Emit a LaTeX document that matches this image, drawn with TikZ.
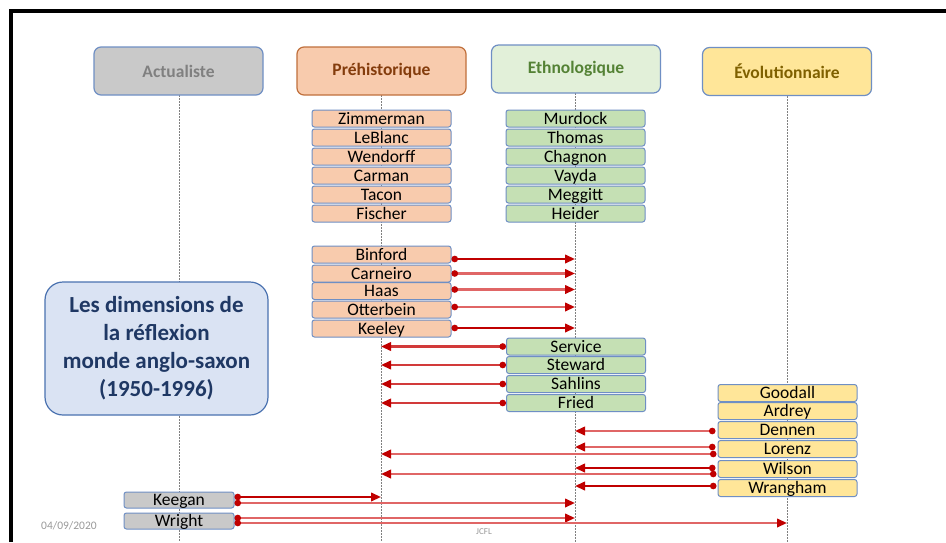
\documentclass[tikz,border=0pt]{standalone}
\usepackage{fontspec}
\setmainfont{Carlito}
\usetikzlibrary{arrows.meta,calc}
\definecolor{dred}{HTML}{C00000}
\definecolor{lred}{HTML}{E06666}
\definecolor{mred}{HTML}{D23A3A}
\definecolor{bbord}{HTML}{6F8FC4}
\definecolor{pbord}{HTML}{C0703C}
\definecolor{gfill}{HTML}{C9C9C9}
\definecolor{pfill}{HTML}{F8CBAD}
\definecolor{efill}{HTML}{C5E0B4}
\definecolor{ehfill}{HTML}{E2F0D9}
\definecolor{vfill}{HTML}{FFE699}
\definecolor{bigfill}{HTML}{DAE3F3}
\begin{document}
\begin{tikzpicture}[x=1pt,y=-1pt,
  headbox/.style={draw=bbord,line width=1.2pt,rounded corners=7pt,minimum width=169pt,minimum height=48pt,inner sep=0pt,font=\fontsize{17.5}{17}\selectfont\bfseries},
  namebox/.style={draw=bbord,line width=1pt,rounded corners=2.5pt,minimum width=139pt,minimum height=17pt,inner sep=0pt,text height=12.5pt,text depth=1.5pt,font=\fontsize{17.5}{17}\selectfont},
  pbox/.style={namebox,fill=pfill},
  ebox/.style={namebox,fill=efill},
  vbox/.style={namebox,fill=vfill},
  abox/.style={namebox,fill=gfill,minimum width=110pt,minimum height=16pt},
  colline/.style={draw=gray,line width=0.6pt,dash pattern=on 1.5pt off 1.5pt},
  arr/.style={line width=2.2pt,{Circle[length=6.5pt,width=6.5pt,color=dred]}-{Triangle[length=10pt,width=8.5pt,color=dred]}},
]
\useasboundingbox (0,0) rectangle (946,542);
\fill[white] (0,0) rectangle (946,542);
% frame
\draw[line width=4pt,black] (11,542) -- (11,11) -- (946,11);
% column coordinates
\coordinate (colA) at (179,0);
\coordinate (colP) at (381,0);
\coordinate (colE) at (575,0);
\coordinate (colV) at (787,0);
% column lines
\draw[colline] (179,95) -- (179,542);
\draw[colline] (381,95) -- (381,542);
\draw[colline] (575,93) -- (575,542);
\draw[colline] (787,96) -- (787,542);
% headers
\node[headbox,fill=gfill,text=gray] (hA) at (178.5,71) {Actualiste};
\node[headbox,fill=pfill,draw=pbord,text={rgb,255:red,132;green,60;blue,12}] (hP) at (381.5,71) {Préhistorique};
\node[headbox,fill=ehfill,text={rgb,255:red,84;green,130;blue,53}] (hE) at (576,69) {Ethnologique};
\node[headbox,fill=vfill,text={rgb,255:red,127;green,96;blue,0}] (hV) at (787,71.5) {Évolutionnaire};
% big box
\node[draw={rgb,255:red,74;green,114;blue,176},line width=1.2pt,fill=bigfill,rounded corners=18pt,minimum width=223pt,minimum height=133pt,align=center,text={rgb,255:red,31;green,56;blue,100},font=\fontsize{23}{28}\selectfont\bfseries] (big) at (156.5,348.5) {Les dimensions de\\la réflexion\\monde anglo-saxon\\(1950-1996)};
% Préhistorique names
\node[pbox] (zim) at (381.5,118.5) {Zimmerman};
\node[pbox] (leb) at (381.5,137.5) {LeBlanc};
\node[pbox] (wen) at (381.5,156.5) {Wendorff};
\node[pbox] (car) at (381.5,175.5) {Carman};
\node[pbox] (tac) at (381.5,194.5) {Tacon};
\node[pbox] (fis) at (381.5,213.5) {Fischer};
\node[pbox] (bin) at (381.5,254.5) {Binford};
\node[pbox] (carn) at (381.5,273.5) {Carneiro};
\node[pbox] (haa) at (381.5,291) {Haas};
\node[pbox] (ott) at (381.5,309.5) {Otterbein};
\node[pbox] (kee) at (381.5,328.5) {Keeley};
% Ethnologique names
\node[ebox] (mur) at (575.5,118.5) {Murdock};
\node[ebox] (tho) at (575.5,137.5) {Thomas};
\node[ebox] (cha) at (575.5,156.5) {Chagnon};
\node[ebox] (vay) at (575.5,175.5) {Vayda};
\node[ebox] (meg) at (575.5,194.5) {Meggitt};
\node[ebox] (hei) at (575.5,213.5) {Heider};
\node[ebox] (ser) at (576,346.5) {Service};
\node[ebox] (ste) at (576,365) {Steward};
\node[ebox] (sah) at (576,384) {Sahlins};
\node[ebox] (fri) at (576,403) {Fried};
% Évolutionnaire names
\node[vbox] (goo) at (787.5,393) {Goodall};
\node[vbox] (ard) at (787.5,411) {Ardrey};
\node[vbox] (den) at (787.5,430) {Dennen};
\node[vbox] (lor) at (787.5,449) {Lorenz};
\node[vbox] (wil) at (787.5,469) {Wilson};
\node[vbox] (wra) at (787.5,488) {Wrangham};
% Actualiste names
\node[abox] (keg) at (179,500) {Keegan};
\node[abox] (wri) at (179,521) {Wright};
% arrows Préhistorique -> Ethnologique
\draw[arr,dred] ([yshift=-4.5pt]bin.east) coordinate (s) -- (s -| colE);
\draw[arr,lred] ([yshift=0pt]carn.east) coordinate (s) -- (s -| colE);
\draw[arr,lred] ([yshift=1.5pt]haa.east) coordinate (s) -- (s -| colE);
\draw[arr,lred] ([yshift=2.5pt]ott.east) coordinate (s) -- (s -| colE);
\draw[arr,dred] ([yshift=0.5pt]kee.east) coordinate (s) -- (s -| colE);
% Ethnologique -> Préhistorique
\draw[arr,mred] (ser.west) coordinate (s) -- (s -| colP);
\draw[arr,mred] (ste.west) coordinate (s) -- (s -| colP);
\draw[arr,mred] (sah.west) coordinate (s) -- (s -| colP);
\draw[arr,mred] (fri.west) coordinate (s) -- (s -| colP);
% Évolutionnaire -> others
\draw[arr,lred] ([xshift=-2pt,yshift=-1pt]den.west) coordinate (s) -- (s -| colE);
\draw[arr,lred] ([xshift=-2pt,yshift=2pt]lor.west) coordinate (s) -- (s -| colE);
\draw[arr,lred] ([xshift=-1pt,yshift=-5pt]lor.west) coordinate (s) -- (s -| colP);
\draw[arr,dred] ([xshift=-2pt,yshift=1pt]wil.west) coordinate (s) -- (s -| colE);
\draw[arr,lred] ([xshift=-1pt,yshift=-5pt]wil.west) coordinate (s) -- (s -| colP);
\draw[arr,dred] ([xshift=-1pt,yshift=2pt]wra.west) coordinate (s) -- (s -| colE);
% Actualiste -> others
\draw[arr,dred] ([yshift=3pt]keg.east) coordinate (s) -- (s -| colP);
\draw[arr,lred] ([yshift=-3pt]keg.east) coordinate (s) -- (s -| colE);
\draw[arr,lred] ([yshift=3pt]wri.east) coordinate (s) -- (s -| colE);
\draw[arr,lred] ([yshift=-2pt]wri.east) coordinate (s) -- (s -| colV);
% footer
\node[text=gray!80,font=\fontsize{11.5}{12}\selectfont,anchor=west,inner sep=0pt] (date) at (41,526) {04/09/2020};
\node[text=gray!80,font=\fontsize{9}{10}\selectfont,inner sep=0pt] (jcfl) at (484,532) {JCFL};
\end{tikzpicture}
\end{document}
